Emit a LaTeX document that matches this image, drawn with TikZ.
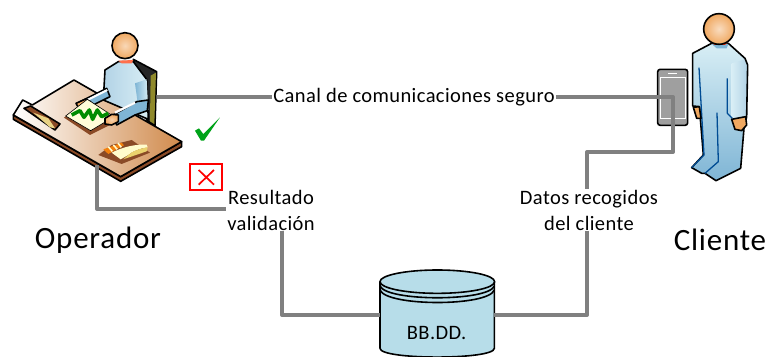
\documentclass[tikz,border=0pt]{standalone}
\usepackage{fontspec}
\setmainfont{Carlito}
\newfontfamily\lblfont[LetterSpace=2]{Carlito}
\newfontfamily\bigfont[LetterSpace=2.5]{Carlito}
\definecolor{wire}{HTML}{808080}
\definecolor{dbfill}{HTML}{B7DDE9}
\definecolor{skin}{HTML}{F0A860}
\definecolor{shirtL}{HTML}{D8EEF5}
\definecolor{shirtD}{HTML}{7FB5D5}
\definecolor{deskD}{HTML}{8A4A26}
\definecolor{deskO}{HTML}{D08A4C}
\tikzset{
 wireline/.style={draw=wire,line width=4pt,line join=round},
 outline/.style={draw=black,line width=1.6pt,line join=round},
 seam/.style={draw=blue!40!black!70!cyan,line width=1.3pt,line join=round},
 lbl/.style={fill=white,inner sep=1pt,align=center,font=\lblfont\fontsize{20.5}{26}\selectfont},
 big/.style={inner sep=0pt,font=\bigfont\fontsize{31}{36}\selectfont},
}
\begin{document}
\begin{tikzpicture}[x=1pt,y=-1pt]
\clip (0,0) rectangle (765,356);
\fill[white] (0,0) rectangle (765,356);
% anchors
\coordinate (opR) at (157,97);
\coordinate (opB) at (97,165);
\coordinate (opC) at (97,209);
\coordinate (phT) at (673,97);
\coordinate (phB) at (673,152);
\coordinate (daT) at (587,152);
\coordinate (daB) at (587,315);
\coordinate (reB) at (282,315);
\node[lbl] (canal) at (414,97) {Canal de comunicaciones seguro};
\node[lbl] (datos) at (589,210) {Datos recogidos\\del cliente};
\node[lbl] (res) at (271,210) {Resultado\\validación};
\node[big] (oper) at (98,240) {Operador};
\node[big] (cli) at (720,240) {Cliente};
% database
\begin{scope}[xshift=360pt,yshift=-260pt,x=0.3333pt,y=-0.3333pt]
\path[fill=dbfill,outline] (60,65) -- (60,265) .. controls (60,300) and (403,300) .. (403,265) -- (403,65) -- cycle;
\path[fill=dbfill,outline] (232,65) ellipse [x radius=172, y radius=35];
\draw[outline] (60,78) .. controls (80,125) and (385,125) .. (403,78);
\draw[outline] (60,90) .. controls (80,140) and (385,140) .. (403,90);
\node[font=\lblfont\fontsize{20.5}{20}\selectfont,inner sep=0pt] (db) at (230,218) {BB.DD.};
\coordinate (dbL) at (60,165);
\coordinate (dbR) at (403,165);
\end{scope}
% operator
\begin{scope}[yshift=-20pt,x=0.3333pt,y=-0.3333pt]
% chair
\path[fill=black!85,outline] (400,118) -- (470,155) -- (465,318) -- (440,300) -- cycle;
\path[fill=olive!70!gray] (452,167) -- (468,158) -- (463,312) -- (450,304) -- cycle;
% desk
\path[fill=deskD,outline] (40,285) -- (40,298) -- (362,484) -- (545,380) -- (545,365) -- (362,470) -- cycle;
\path[left color=white,right color=deskO,outline] (40,285) -- (68,240) -- (97,255) -- (222,180) -- (545,365) -- (362,470) -- cycle;
% person
\path[left color=shirtD!60!white,right color=shirtL,outline] (315,150) -- (355,125) -- (400,125) -- (440,178) -- (445,298) -- (310,240) -- cycle;
\path[fill=red!60!orange!70!white] (355,122) -- (400,120) -- (395,130) -- (365,130) -- cycle;
\path[inner color=white!55!skin,outer color=skin,outline] (375,77) circle [radius=39];
\path[left color=shirtD,right color=shirtL] (405,190) -- (440,178) -- (445,270) -- (415,262) -- cycle;
% left arm
\path[fill=shirtD,outline] (240,245) -- (320,205) -- (330,230) -- (265,262) -- cycle;
\draw[white,line width=2pt] (262,240) -- (322,210);
\path[fill=skin,outline] (228,250) -- (255,238) -- (272,245) -- (260,262) -- (235,262) -- cycle;
% sheet
\path[fill=deskD] (192,293) -- (270,345) -- (350,305) -- (262,240) -- cycle;
\path[fill=white!85!yellow,draw=black,line width=.6pt] (197,288) -- (272,332) -- (342,290) -- (262,238) -- cycle;
\draw[green!55!black,line width=3.6pt,line join=round] (215,285) -- (240,272) -- (252,292) -- (268,270) -- (278,298) -- (292,270) -- (305,290) -- (325,280);
% right arm
\path[fill=shirtD,outline] (340,285) -- (410,245) -- (445,240) -- (442,272) -- (405,285) -- (350,315) -- cycle;
\draw[white,line width=2.2pt] (345,278) -- (405,248);
\path[inner color=white!50!skin,outer color=skin,outline] (315,295) -- (335,283) -- (355,285) -- (355,305) -- (335,315) -- (315,312) -- cycle;
% nameplate
\path[fill=deskD,outline] (72,265) -- (92,258) -- (180,312) -- (165,330) -- cycle;
\path[fill=yellow!40!brown!60!white] (100,278) -- (145,295) -- (165,325) -- (150,322) -- cycle;
% telephone
\path[fill=deskD] (295,405) -- (335,375) -- (395,360) -- (450,398) -- (365,432) -- cycle;
\path[fill=orange!80!brown] (310,388) -- (365,368) -- (372,376) -- (325,402) -- cycle;
\draw[white!80!yellow,line width=1.6pt] (325,380) -- (337,394) (340,375) -- (352,388) (354,369) -- (364,382);
\path[fill=white!80!yellow] (335,398) .. controls (370,380) and (410,372) .. (440,374) -- (443,382) .. controls (420,385) and (395,395) .. (385,405) -- (362,418) -- cycle;
\path[fill=yellow!50!brown!70!white] (385,405) .. controls (395,395) and (420,385) .. (443,382) -- (440,394) -- (370,418) -- cycle;
\end{scope}
% check and cross
\begin{scope}[yshift=-20pt,x=0.3333pt,y=-0.3333pt]
\path[fill=green!60!black!90!cyan] (585,332) -- (597,325) -- (610,342) -- (660,292) -- (612,362) -- (603,362) -- cycle;
\draw[red,line width=2.2pt] (571,433) rectangle (667,510);
\draw[red,line width=1.7pt] (596,450) -- (642,494) (642,450) -- (596,494);
\end{scope}
% client
\begin{scope}[xshift=630pt,x=0.3333pt,y=-0.3333pt]
\path[top color=shirtL,bottom color=shirtD] (188,160) -- (245,130) -- (295,130) -- (345,175) -- (353,195) -- (350,350) -- (342,385) -- (332,505) -- (258,542) -- (225,520) -- (215,520) -- (185,503) -- (220,465) -- (208,320) -- (188,318) -- cycle;
\path[left color=shirtL,right color=shirtD!60!white] (305,190) -- (345,178) -- (352,195) -- (350,350) -- (305,355) -- cycle;
\path[outline] (188,160) -- (245,130) -- (295,130) -- (345,175) -- (353,195) -- (350,350) -- (342,385) -- (332,505) -- (258,542) -- (225,520) -- (215,520) -- (185,503) -- (220,465) -- (208,320) -- (188,318) -- cycle;
\draw[seam] (207,203) -- (222,465) -- (185,503);
\draw[seam] (292,235) -- (292,340) -- (307,355);
\draw[seam] (261,338) -- (265,485) -- (225,520);
\path[fill=shirtD] (245,132) -- (295,132) -- (290,145) -- (260,145) -- cycle;
\path[fill=red!70!orange] (243,128) -- (292,128) -- (285,135) -- (255,135) -- cycle;
\path[inner color=white!60!skin,outer color=skin,outline] (267,87) circle [radius=46];
\path[fill=skin,outline] (190,322) -- (208,320) -- (213,355) -- (200,355) -- cycle;
\path[fill=skin,outline] (305,358) -- (347,350) -- (350,375) -- (335,392) -- (315,388) -- cycle;
% phone
\path[fill=gray!75,draw=black,line width=1.6pt,rounded corners=2.5pt] (83,208) rectangle (173,376);
\path[fill=gray!75,draw=white,line width=.9pt] (90,232) rectangle (165,356);
\draw[white,line width=1pt] (115,220) -- (141,220);
\end{scope}
% connectors
\draw[wireline] (opR) -- (canal);
\draw[wireline] (canal) -- (phT) -- (phB) -- (daT) -- (daT |- datos.north);
\draw[wireline] (daB |- datos.south) -- (daB) -- (daB -| dbR);
\draw[wireline] (opB) -- (opC) -- (res.west |- opC);
\draw[wireline] (res.south -| reB) -- (reB) -- (reB -| dbL);
\end{tikzpicture}
\end{document}
